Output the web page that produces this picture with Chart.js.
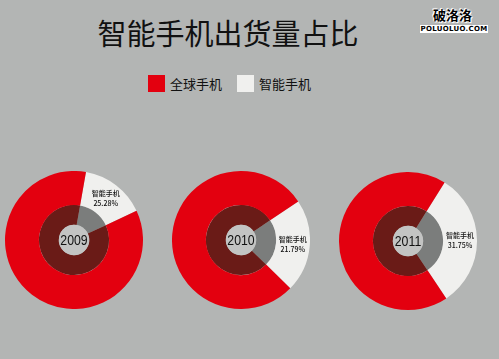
<!DOCTYPE html>
<html><head><meta charset="utf-8">
<script src="https://cdn.jsdelivr.net/npm/chart.js@4/dist/chart.umd.min.js"></script>
<style>
html,body{margin:0;padding:0;}
body{width:499px;height:359px;background:#b3b5b4;position:relative;overflow:hidden;font-family:"Noto Sans CJK SC","Noto Sans",sans-serif;}
#title{position:absolute;left:0;width:456px;top:12px;text-align:center;font-size:29px;line-height:40px;color:#111;letter-spacing:0px;}
#legend{position:absolute;top:75px;left:148px;height:18px;font-size:13px;line-height:18px;color:#111;}
.lg{position:absolute;top:0;white-space:nowrap;}
.sw{display:inline-block;width:17px;height:17px;vertical-align:top;margin-right:5px;}
#wm1{position:absolute;left:433px;top:5px;font-size:13px;font-weight:bold;color:#000;text-shadow:0 0 2px #fff,0 0 2px #fff,1px 1px 0 #fff,-1px -1px 0 #fff;}
#wm2{position:absolute;left:420px;top:25px;width:68px;height:8px;background:#fff;font-family:"DejaVu Sans";font-size:7px;line-height:8px;font-weight:bold;color:#000;text-align:center;letter-spacing:0.3px;}
.box{position:absolute;width:138px;height:138px;}
</style></head>
<body>
<div id="title"></div>
<div id="legend"></div>
<div id="wm1">破洛洛</div>
<div id="wm2">POLUOLUO.COM</div>
<div class="box" style="left:5px;top:171px"><canvas id="c0"></canvas></div>
<div class="box" style="left:172px;top:171px"><canvas id="c1"></canvas></div>
<div class="box" style="left:339px;top:172px"><canvas id="c2"></canvas></div>
<script>
const titleText = "智能手机出货量占比";
const categories = ["智能手机", "全球手机"];
const legendOrder = ["全球手机", "智能手机"];
const years = ["2009", "2010", "2011"];
const smartShare = [15.28, 21.79, 31.75];
const shareLabels = ["25.28%", "21.79%", "31.75%"];

const colors = {"全球手机": "#e3000f", "智能手机": "#f0f0ee"};
const innerColors = {"全球手机": "#6a1b17", "智能手机": "#7b7d7c"};
const rotations = [10, 56, 32];

document.getElementById('title').textContent = titleText;
const lg = document.getElementById('legend');
[0, 89].forEach((x, i) => {
  const d = document.createElement('div');
  d.className = 'lg'; d.style.left = x + 'px';
  const name = legendOrder[i];
  d.innerHTML = '<span class="sw" style="background:' + colors[name] + '"></span>' + name;
  lg.appendChild(d);
});

const centerPlugin = {
  id: 'centerPlugin',
  afterDatasetsDraw(chart) {
    const ctx = chart.ctx;
    const arc = chart.getDatasetMeta(1).data[0];
    const r = arc.innerRadius;
    const cx = arc.x, cy = arc.y;
    ctx.save();
    ctx.beginPath();
    ctx.arc(cx, cy, r, 0, Math.PI * 2);
    ctx.fillStyle = '#c3c4c3';
    ctx.fill();
    ctx.fillStyle = '#111';
    ctx.font = '15px "Liberation Sans", Arial, sans-serif';
    ctx.textAlign = 'center';
    ctx.textBaseline = 'middle';
    ctx.save();
    ctx.translate(cx, cy + 1);
    ctx.scale(0.82, 1);
    ctx.fillText(chart.options.plugins.centerPlugin.year, 0, 0);
    ctx.restore();
    // label on smartphone slice
    const el = chart.getDatasetMeta(0).data[0];
    const p = el.getCenterPoint();
    ctx.font = '500 7px "Noto Sans CJK SC", sans-serif';
    ctx.fillText(categories[0], p.x, p.y - 5);
    ctx.fillText(chart.options.plugins.centerPlugin.label, p.x, p.y + 5);
    ctx.restore();
  }
};

years.forEach((y, i) => {
  const vals = [smartShare[i], 100 - smartShare[i]];
  new Chart(document.getElementById('c' + i), {
    type: 'doughnut',
    data: {
      labels: categories,
      datasets: [
        {data: vals, backgroundColor: categories.map(c => colors[c]), borderWidth: 0, weight: 34},
        {data: vals, backgroundColor: categories.map(c => innerColors[c]), borderWidth: 0, weight: 20}
      ]
    },
    options: {
      responsive: true, maintainAspectRatio: false, animation: false,
      cutout: '22%', rotation: rotations[i],
      layout: {padding: 0},
      plugins: {legend: {display: false}, tooltip: {enabled: false},
        centerPlugin: {year: y, label: shareLabels[i]}}
    },
    plugins: [centerPlugin]
  });
});
</script>
</body></html>
